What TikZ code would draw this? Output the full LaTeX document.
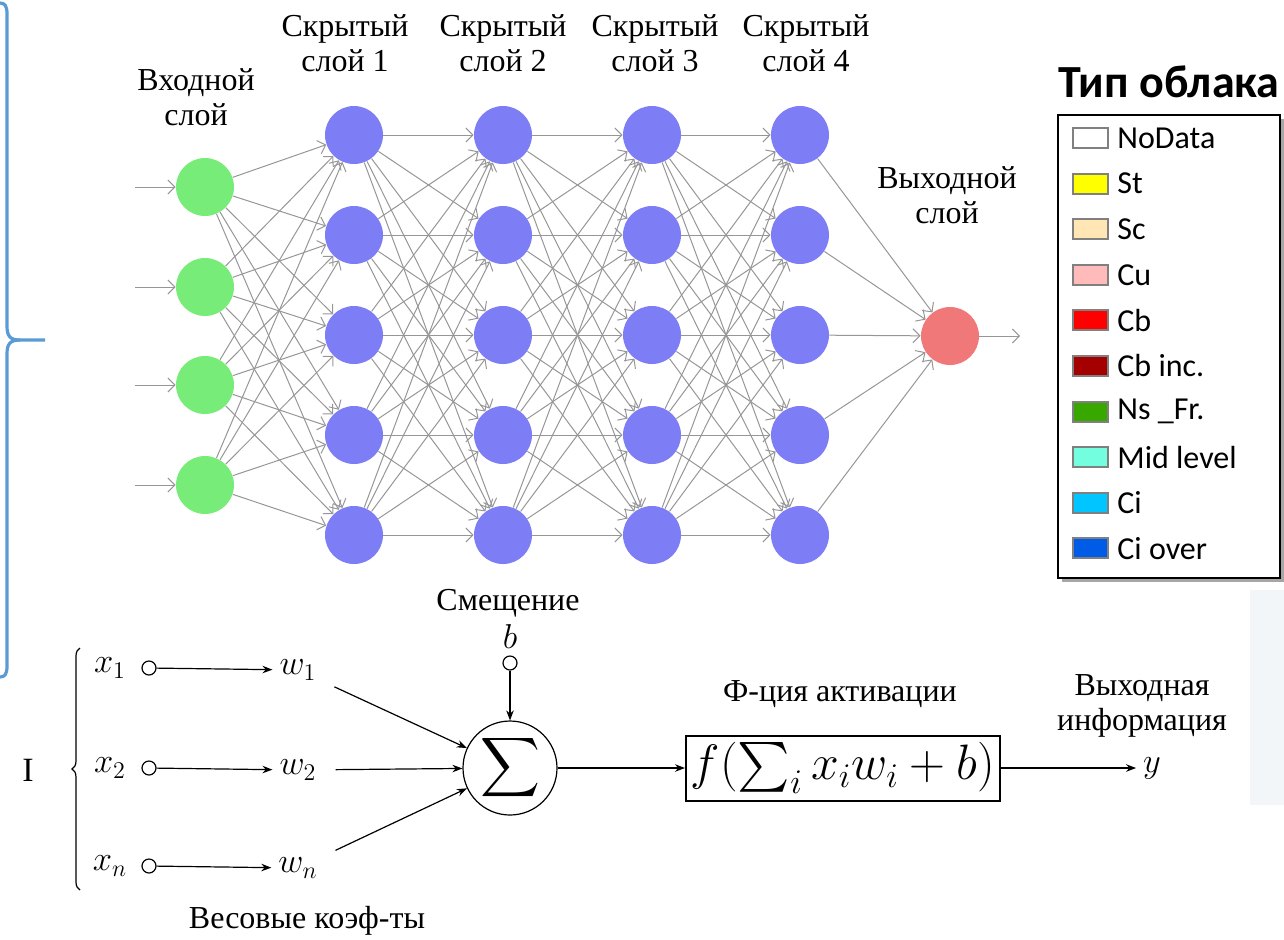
\documentclass[tikz,border=0pt]{standalone}
\usepackage{amsmath}
\usepackage{fontspec}
\setmainfont{Liberation Serif}
\newfontfamily\legendfont{Carlito}
\usepackage{tikz}
\usetikzlibrary{arrows.meta,calc,positioning,decorations.pathreplacing}
\definecolor{inc}{RGB}{120,236,120}
\definecolor{hidc}{RGB}{125,125,245}
\definecolor{outc}{RGB}{240,120,120}
\definecolor{edgec}{RGB}{150,150,150}
\definecolor{bracec}{RGB}{91,155,213}
\definecolor{patchc}{RGB}{242,246,248}
\definecolor{lg0}{RGB}{255,255,255}
\definecolor{lg1}{RGB}{255,255,0}
\definecolor{lg2}{RGB}{255,230,180}
\definecolor{lg3}{RGB}{255,186,186}
\definecolor{lg4}{RGB}{255,0,0}
\definecolor{lg5}{RGB}{165,0,0}
\definecolor{lg6}{RGB}{56,168,0}
\definecolor{lg7}{RGB}{115,255,223}
\definecolor{lg8}{RGB}{0,197,255}
\definecolor{lg9}{RGB}{0,92,230}

\begin{document}
\begin{tikzpicture}[x=0.5pt,y=-0.5pt,
  neuron/.style={circle,minimum size=29pt,inner sep=0pt},
  lbl/.style={font=\fontsize{16}{17.5}\selectfont,align=center},
  mth/.style={font=\fontsize{17}{20}\selectfont},
  wire/.style={edgec,line width=0.5pt,-{Straight Barb[length=3.5pt]}},
  sig/.style={line width=0.6pt,-{Stealth[length=5pt]}},
  port/.style={circle,draw,line width=0.6pt,minimum size=7pt,inner sep=0pt}]
  \useasboundingbox (0,0) rectangle (1284,939);
  \fill[patchc] (1250,590) rectangle (1284,805);
  % left brace
  \draw[bracec,line width=1.6pt] (0,3) .. controls (5,3) and (7,6) .. (7,14) -- (7,326) .. controls (7,336) and (10,340) .. (20,340) -- (45,340);
  \draw[bracec,line width=1.6pt] (20,340) .. controls (10,340) and (7,344) .. (7,354) -- (7,666) .. controls (7,674) and (5,677) .. (0,677);
  % network
  \foreach \i/\y in {0/187,1/287,2/385,3/485} {\node[neuron,fill=inc] (in\i) at (205,\y) {}; \coordinate (src\i) at (135,\y); \draw[wire] (src\i) -- (in\i);}
  \foreach \l/\x in {1/354,2/503,3/652,4/800} \foreach \j in {0,...,4} \node[neuron,fill=hidc] (h\l\j) at (\x,135+100*\j) {};
  \node[neuron,fill=outc] (out) at (950,336) {};
  \coordinate (dst) at (1020,336);
  \draw[wire] (out) -- (dst);
  \foreach \i in {0,...,3} \foreach \j in {0,...,4} \draw[wire] (in\i) -- (h1\j);
  \foreach \l/\m in {1/2,2/3,3/4} \foreach \i in {0,...,4} \foreach \j in {0,...,4} \draw[wire] (h\l\i) -- (h\m\j);
  \foreach \j in {0,...,4} \draw[wire] (h4\j) -- (out);
  \node[lbl] (inlbl) at (196,97) {Входной\\слой};
  \foreach \l/\x in {1/345,2/503,3/655,4/806} \node[lbl] (hlbl\l) at (\x,43) {Скрытый\\слой \l};
  \node[lbl] (outlbl) at (947,195) {Выходной\\слой};
  % legend
  \node[font=\legendfont\bfseries\fontsize{23}{27}\selectfont] (legtitle) at (1169,82) {Тип облака};
  \fill[black!35] (1062,119) rectangle (1284,582);
  \draw[fill=white,line width=1pt] (1058,115) rectangle (1280,578);
  \foreach \t [count=\k from 0] in {NoData,St,Sc,Cu,Cb,Cb inc.,Ns \_Fr.,Mid level,Ci,Ci over} {
    \node[draw=gray,line width=1pt,fill=lg\k,minimum width=17.5pt,minimum height=10pt,inner sep=0pt] (sw\k) at (1090.5,138+45.6*\k) {};
    \node[right=3pt of sw\k,inner sep=1pt,font=\legendfont\fontsize{16}{18}\selectfont] (lt\k) {\t};}
  % neuron model
  \node[lbl] (biaslbl) at (508,603) {Смещение};
  \node[mth] (blbl) at (510,636) {$b$};
  \node[port] (bias) at (510,663) {};
  \node[circle,draw,line width=0.6pt,minimum size=47pt,inner sep=0pt] (sum) at (510,768) {\fontsize{22}{24}\selectfont$\displaystyle\sum$};
  \draw[sig] (bias) -- (sum);
  \foreach \k/\s/\y in {1/1/668,2/2/768,3/n/866} {
    \node[mth] (x\k) at (110,\y) {$x_{\s}$};
    \node[port] (c\k) at (149,\y) {};
    \node[mth] (w\k) at (298,\y+2) {$w_{\s}$};
    \draw[sig] (c\k) -- (w\k);
    \draw[sig,shorten <=6pt] (w\k) -- (sum);}
  \node[draw,line width=1pt,inner sep=1pt,minimum width=157pt,minimum height=32.5pt,font=\fontsize{23.5}{26}\selectfont] (act) at (843,768) {$f(\sum_i x_iw_i+b)$};
  \node[lbl,inner sep=1pt] (actlbl) at (840,694) {Ф-ция активации};
  \draw[sig] (sum) -- (act);
  \node[mth] (yout) at (1152,768) {$y$};
  \draw[sig] (act) -- (yout);
  \node[lbl] (outinfo) at (1142,706) {Выходная\\информация};
  \node[lbl] (wlbl) at (307,921) {Весовые коэф-ты};
  \node[font=\fontsize{17}{20}\selectfont] (inI) at (28,770) {I};
  \draw[decorate,decoration={brace,amplitude=4pt},line width=0.6pt] (80,890) -- (80,648);
\end{tikzpicture}
\end{document}
